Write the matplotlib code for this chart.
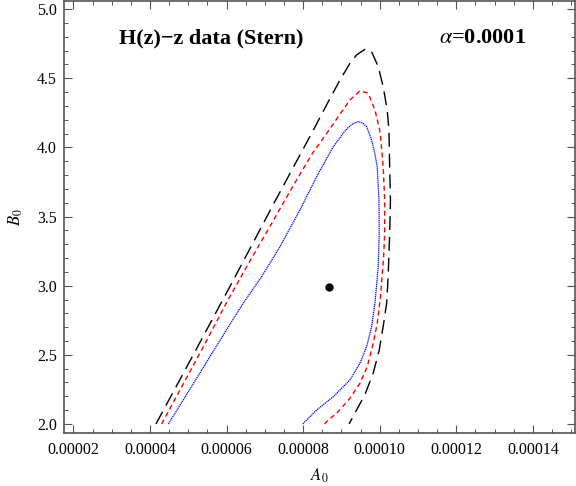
#Contornos de confianza A0-B0 para datos H(z)-z (Stern)
import matplotlib.pyplot as plt
from matplotlib.ticker import MultipleLocator
import numpy as np

plt.rcParams['font.family'] = ['Liberation Serif', 'DejaVu Serif']
plt.rcParams['mathtext.fontset'] = 'stix'

#contorno interior (azul, punteado)
blue_x = [4.48e-5, 5.005e-5, 5.567e-5, 6.105e-5, 6.45e-5, 6.916e-5, 7.394e-5, 7.916e-5,
          8.352e-5, 8.786e-5, 8.961e-5, 9.08e-5, 9.18e-5, 9.30e-5, 9.44e-5, 9.56e-5, 9.658e-5,
          9.788e-5, 9.875e-5, 9.935e-5, 9.979e-5, 9.987e-5, 9.96e-5, 9.91e-5, 9.875e-5,
          9.788e-5, 9.658e-5, 9.483e-5, 9.222e-5, 8.786e-5, 8.352e-5, 7.99e-5]
blue_y = [2.0, 2.234, 2.487, 2.728, 2.88, 3.065, 3.282, 3.547,
          3.788, 4.005, 4.07, 4.115, 4.145, 4.172, 4.186, 4.175, 4.15,
          4.054, 3.95, 3.861, 3.62, 3.379, 3.137, 2.98, 2.873,
          2.704, 2.559, 2.439, 2.318, 2.197, 2.101, 2.0]

#contorno medio (rojo, rayas cortas)
red_x = [4.305e-5, 5.446e-5, 6.023e-5, 6.655e-5, 7.178e-5, 7.755e-5, 8.25e-5, 8.613e-5,
         8.961e-5, 9.222e-5, 9.483e-5, 9.60e-5, 9.70e-5, 9.875e-5, 10.0e-5, 10.03e-5,
         10.09e-5, 10.13e-5, 10.13e-5, 10.10e-5, 10.075e-5, 10.02e-5, 9.935e-5, 9.83e-5,
         9.674e-5, 9.483e-5, 9.222e-5, 8.917e-5, 8.613e-5, 8.56e-5]
red_y = [2.0, 2.585, 2.89, 3.2, 3.45, 3.73, 3.96, 4.10,
         4.24, 4.343, 4.408, 4.40, 4.391, 4.270, 4.126, 4.054,
         3.861, 3.62, 3.379, 3.2, 3.113, 2.921, 2.728, 2.583,
         2.414, 2.294, 2.186, 2.089, 2.017, 2.0]

#contorno exterior (negro, rayas largas)
black_x = [4.157e-5, 5.131e-5, 6.119e-5, 7.226e-5, 8.237e-5, 8.655e-5, 8.961e-5, 9.222e-5,
           9.40e-5, 9.614e-5, 9.788e-5, 9.961e-5, 10.09e-5, 10.196e-5, 10.24e-5, 10.26e-5,
           10.28e-5, 10.26e-5, 10.22e-5, 10.18e-5, 10.09e-5, 9.987e-5, 9.83e-5, 9.61e-5,
           9.396e-5, 9.2e-5]
black_y = [2.0, 2.50, 3.01, 3.59, 4.11, 4.33, 4.487, 4.608,
           4.67, 4.709, 4.692, 4.584, 4.439, 4.27, 4.126, 3.861,
           3.62, 3.379, 3.065, 2.873, 2.704, 2.535, 2.367, 2.21,
           2.101, 2.0]

#mejor ajuste
best_x = [8.68e-5]
best_y = [2.99]

xticks = [2e-5, 4e-5, 6e-5, 8e-5, 10e-5, 12e-5, 14e-5]
xtick_labels = ['0.00002', '0.00004', '0.00006', '0.00008', '0.00010', '0.00012', '0.00014']
yticks = [2.0, 2.5, 3.0, 3.5, 4.0, 4.5, 5.0]
ytick_labels = ['2.0', '2.5', '3.0', '3.5', '4.0', '4.5', '5.0']

fig = plt.figure(figsize=(5.76, 4.86), dpi=100)
ax = fig.add_axes([0.1111, 0.1097, 0.8872, 0.8883])

ax.plot(black_x, black_y, color='black', lw=1.0, linestyle=(0, (10, 5)))
ax.plot(red_x, red_y, color='red', lw=1.0, linestyle=(0, (3.5, 2.5)))
ax.plot(blue_x, blue_y, color='blue', lw=0.9, linestyle=(0, (1, 0.6)))
ax.plot(best_x, best_y, 'o', color='black', ms=5)

ax.set_xlim(1.755e-5, 1.51e-4)
ax.set_ylim(1.937, 5.059)
ax.set_xticks(xticks)
ax.set_xticklabels(xtick_labels)
ax.set_yticks(yticks)
ax.set_yticklabels(ytick_labels)
ax.xaxis.set_minor_locator(MultipleLocator(0.5e-5))
ax.yaxis.set_minor_locator(MultipleLocator(0.1))

ax.tick_params(which='both', direction='in', top=True, right=True, color='#555555')
ax.tick_params(which='major', length=5.5, width=0.8, labelsize=11.5)
ax.tick_params(which='minor', length=3.2, width=0.7)
ax.tick_params(axis='x', pad=7)
ax.tick_params(axis='y', pad=5)
for s in ax.spines.values():
    s.set_color('#555555')
    s.set_linewidth(1.2)

ax.set_xlabel(r'$A_0$', fontsize=12, labelpad=6)
ax.set_ylabel(r'$B_0$', fontsize=12, labelpad=9)

ax.text(0.2877, 0.914, 'H(z)\u2212z data (Stern)', transform=ax.transAxes,
        ha='center', va='center', fontsize=16, fontweight='bold')
ax.text(0.818, 0.914, r'$\alpha$=0.0001', transform=ax.transAxes,
        ha='center', va='center', fontsize=16, fontweight='bold')

fig.savefig('out.png', dpi=100)
